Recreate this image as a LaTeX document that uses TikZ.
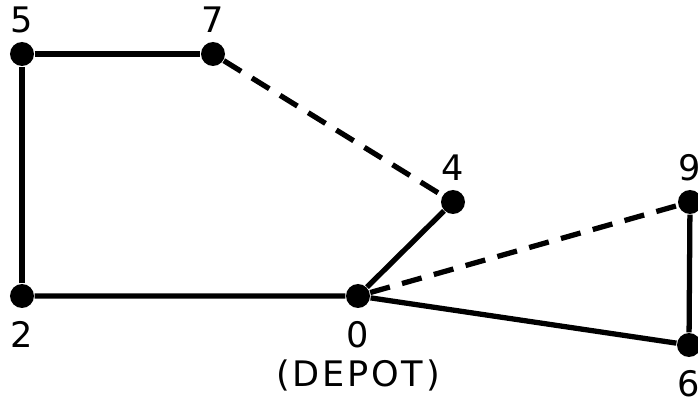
\documentclass[tikz,border=0pt]{standalone}
\usepackage{fontspec}
\setmainfont{DejaVu Sans}[LetterSpace=8]
\usetikzlibrary{positioning}
\tikzset{
  stop/.style={circle,fill=black,minimum size=0.24cm,inner sep=0pt},
  tag/.style={inner sep=0pt,font=\fontsize{10}{11}\selectfont},
  leg/.style={line width=1.5pt,color=black},
  newleg/.style={leg,dash pattern=on 5.8pt off 3.6pt},
}
\begin{document}
\begin{tikzpicture}
  \useasboundingbox (0,0) rectangle (6.98,3.98);
  \node[stop] (n5) at (0.22,3.44){}; \node[stop] (n7) at (2.13,3.44){};
  \node[stop] (n4) at (4.53,1.96){}; \node[stop] (n9) at (6.90,1.96){};
  \node[stop] (n0) at (3.58,1.02){}; \node[stop] (n2) at (0.22,1.02){};
  \node[stop] (n6) at (6.89,0.53){};
  % stop numbers
  \node[tag,above=0.08cm of n5] (t5){5}; \node[tag,above=0.08cm of n7] (t7){7};
  \node[tag,above=0.08cm of n4] (t4){4}; \node[tag,above=0.08cm of n9] (t9){9};
  \node[tag,below=0.12cm of n2] (t2){2}; \node[tag,below=0.12cm of n0] (t0){0};
  \node[tag,below=0.1cm of t0] (depot){(DEPOT)};
  \node[tag,below=0.12cm of n6] (t6){6};
  % routes
  \draw[leg] (n2)--(n5)--(n7); \draw[newleg] (n7)--(n4);
  \draw[leg] (n4)--(n0)--(n2);
  \draw[newleg] (n0)--(n9); \draw[leg] (n9)--(n6)--(n0);
\end{tikzpicture}
\end{document}
